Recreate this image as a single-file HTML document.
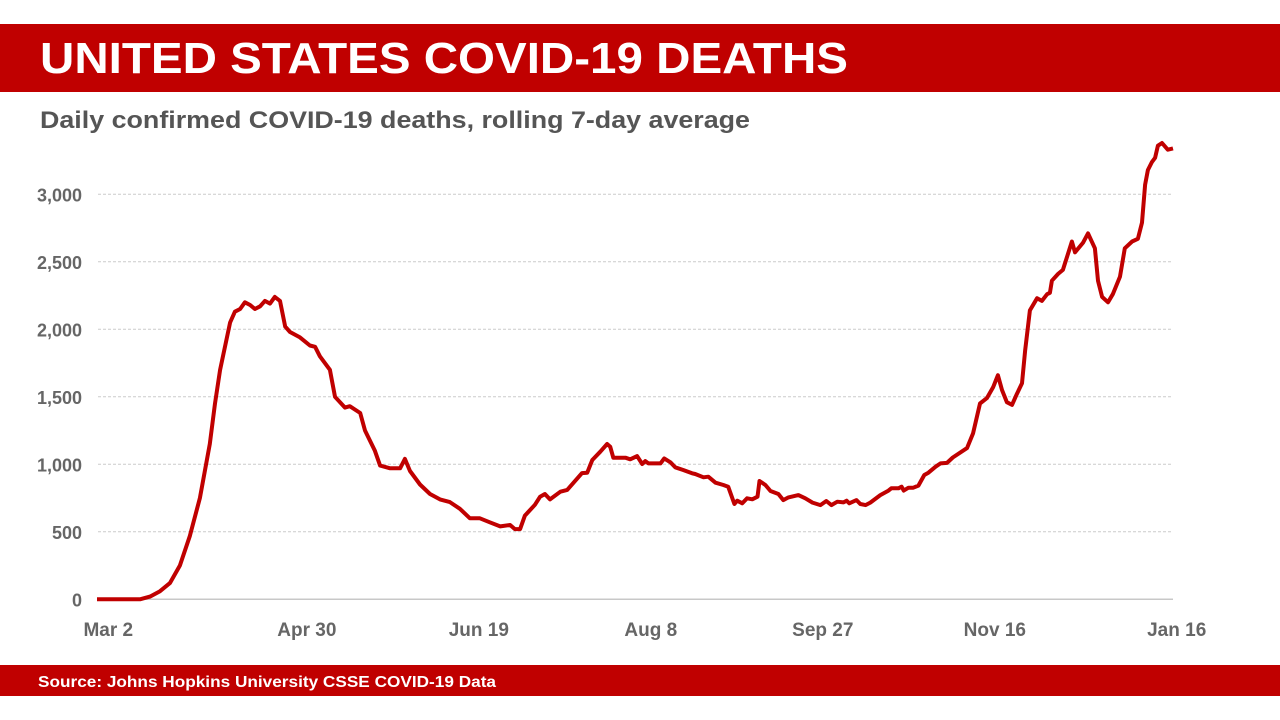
<!DOCTYPE html>
<html><head><meta charset="utf-8"><style>
html,body{margin:0;padding:0;background:#fff;width:1280px;height:720px;overflow:hidden}
svg{display:block;font-family:"Liberation Sans",sans-serif}
</style></head><body>
<svg id="chart" width="1280" height="720" viewBox="0 0 1280 720">
<rect x="0" y="24" width="1280" height="68" fill="#c00000"/>
<text x="40" y="73" font-size="44" font-weight="bold" fill="#fff" textLength="808" lengthAdjust="spacingAndGlyphs">UNITED STATES COVID-19 DEATHS</text>
<text x="40" y="128" font-size="24" font-weight="bold" fill="#555" textLength="710" lengthAdjust="spacingAndGlyphs">Daily confirmed COVID-19 deaths, rolling 7-day average</text>
<g id="grid"></g>
<g id="yticks"></g>
<g id="xticks"></g>
<path id="line" fill="none" stroke="#c00000" stroke-width="4" stroke-linejoin="round"/>
<rect x="0" y="665" width="1280" height="31" fill="#c00000"/>
<text x="38" y="687" font-size="16" font-weight="bold" fill="#fff" textLength="458" lengthAdjust="spacingAndGlyphs">Source: Johns Hopkins University CSSE COVID-19 Data</text>
</svg>
<script>
const days=[0,12.5,15.4,18.3,21.2,24.1,27,29.9,32.8,34.3,35.8,38.7,40.1,41.6,43,44.5,45.9,47.4,48.8,50.3,51.7,53.2,54.7,56.1,59,61.9,63.4,64.8,67.7,69.2,72.1,73.5,76.5,77.9,80.8,82.3,85.2,88.1,89.5,91,93.9,96.8,99.7,102.6,105.5,108.4,111.3,114.2,117.2,120.1,121.5,123,124.4,127.3,128.8,130.2,131.7,
134.7,136.7,141,142.5,144,146.3,148.3,149.2,150.1,153.6,155,157,158.5,159.4,160.3,163.8,164.9,166.7,168.1,170.4,173,173.9,176.3,177.7,179.8,182.1,183.5,185.3,186.1,187.6,189,190.5,192,192.6,194.3,195.8,198.1,199.5,201,203.9,205.9,208,210.3,212,213.5,215.2,217,217.9,218.7,220.8,221.9,223.4,224.8,227.7,230.1,230.9,233,233.9,234.5,235.9,237.3,238.8,240.5,241.7,243.8,245.2,
247.1,248.8,252.9,254.7,256.7,258.7,260.5,261.9,263.1,264.5,266,267.4,268.9,269.8,271.2,273.3,274.7,276.2,277,277.6,279.4,280.8,283.4,284.3,286.6,288.1,290.1,291,292.2,293.9,295.3,297.4,298.8,300.9,302.6,303.8,304.7,305.5,306.7,307.6,308.4,309.6,311.3,312.8];
const deaths=[0,0,20,60,120,250,470,750,1150,1450,1700,2050,2130,2150,2200,2180,2150,2170,2210,2190,2240,2210,2020,1980,1940,1880,1870,1800,1700,1500,1420,1430,1380,1250,1100,990,970,970,1040,950,850,780,740,720,670,600,600,570,540,550,520,520,620,700,760,780,740,
797,810,935,938,1032,1093,1150,1130,1049,1049,1037,1061,1002,1024,1007,1007,1044,1015,978,958,933,928,904,908,864,847,834,706,730,711,748,741,760,876,847,802,780,735,755,772,748,716,698,728,698,723,718,730,711,735,706,698,716,772,805,822,822,834,805,827,827,842,921,938,982,1007,
1010,1050,1120,1230,1450,1490,1570,1660,1550,1460,1440,1520,1600,1840,2140,2230,2210,2260,2270,2360,2410,2440,2650,2570,2640,2710,2600,2360,2240,2200,2260,2390,2600,2650,2670,2790,3070,3180,3240,3270,3360,3380,3330,3340];
const yTicks=[0,500,1000,1500,2000,2500,3000];
const yLabels=["0","500","1,000","1,500","2,000","2,500","3,000"];
const xTickDays=[3,61,111,161,211,261,313];
const xLabels=["Mar 2","Apr 30","Jun 19","Aug 8","Sep 27","Nov 16","Jan 16"];
const X0=97,X1=1173,DMAX=312.8,Y0=599.3,YPX=0.135;
const sx=d=>X0+(X1-X0)*d/DMAX;
const sy=v=>Y0-v*YPX;
const NS="http://www.w3.org/2000/svg";
const grid=document.getElementById('grid'),yt=document.getElementById('yticks'),xt=document.getElementById('xticks');
yTicks.forEach((v,i)=>{
 const l=document.createElementNS(NS,'line');
 
 
 l.setAttribute('x1',X0+1);l.setAttribute('x2',X1);l.setAttribute('y1',sy(v));l.setAttribute('y2',sy(v));
 l.setAttribute('stroke',v===0?'#c8c8c8':'#cccccc');l.setAttribute('stroke-width',v===0?1.5:1);
 if(v!==0)l.setAttribute('stroke-dasharray','3 2');
 grid.appendChild(l);
 const t=document.createElementNS(NS,'text');
 
 
 t.setAttribute('x',82);t.setAttribute('y',sy(v)+7);t.setAttribute('text-anchor','end');
 t.setAttribute('font-size','18');t.setAttribute('font-weight','bold');t.setAttribute('fill','#666');
 t.textContent=yLabels[i];yt.appendChild(t);
});
xTickDays.forEach((d,i)=>{
 const t=document.createElementNS(NS,'text');
 
 
 t.setAttribute('x',sx(d)+(i===0?1:(i===6?3:0)));t.setAttribute('y',636);t.setAttribute('text-anchor','middle');
 t.setAttribute('font-size','19');t.setAttribute('font-weight','bold');t.setAttribute('fill','#666');
 t.textContent=xLabels[i];xt.appendChild(t);
});
document.getElementById('line').setAttribute('d',days.map((d,i)=>(i?'L':'M')+sx(d).toFixed(1)+','+sy(deaths[i]).toFixed(1)).join(''));
</script>
</body></html>
